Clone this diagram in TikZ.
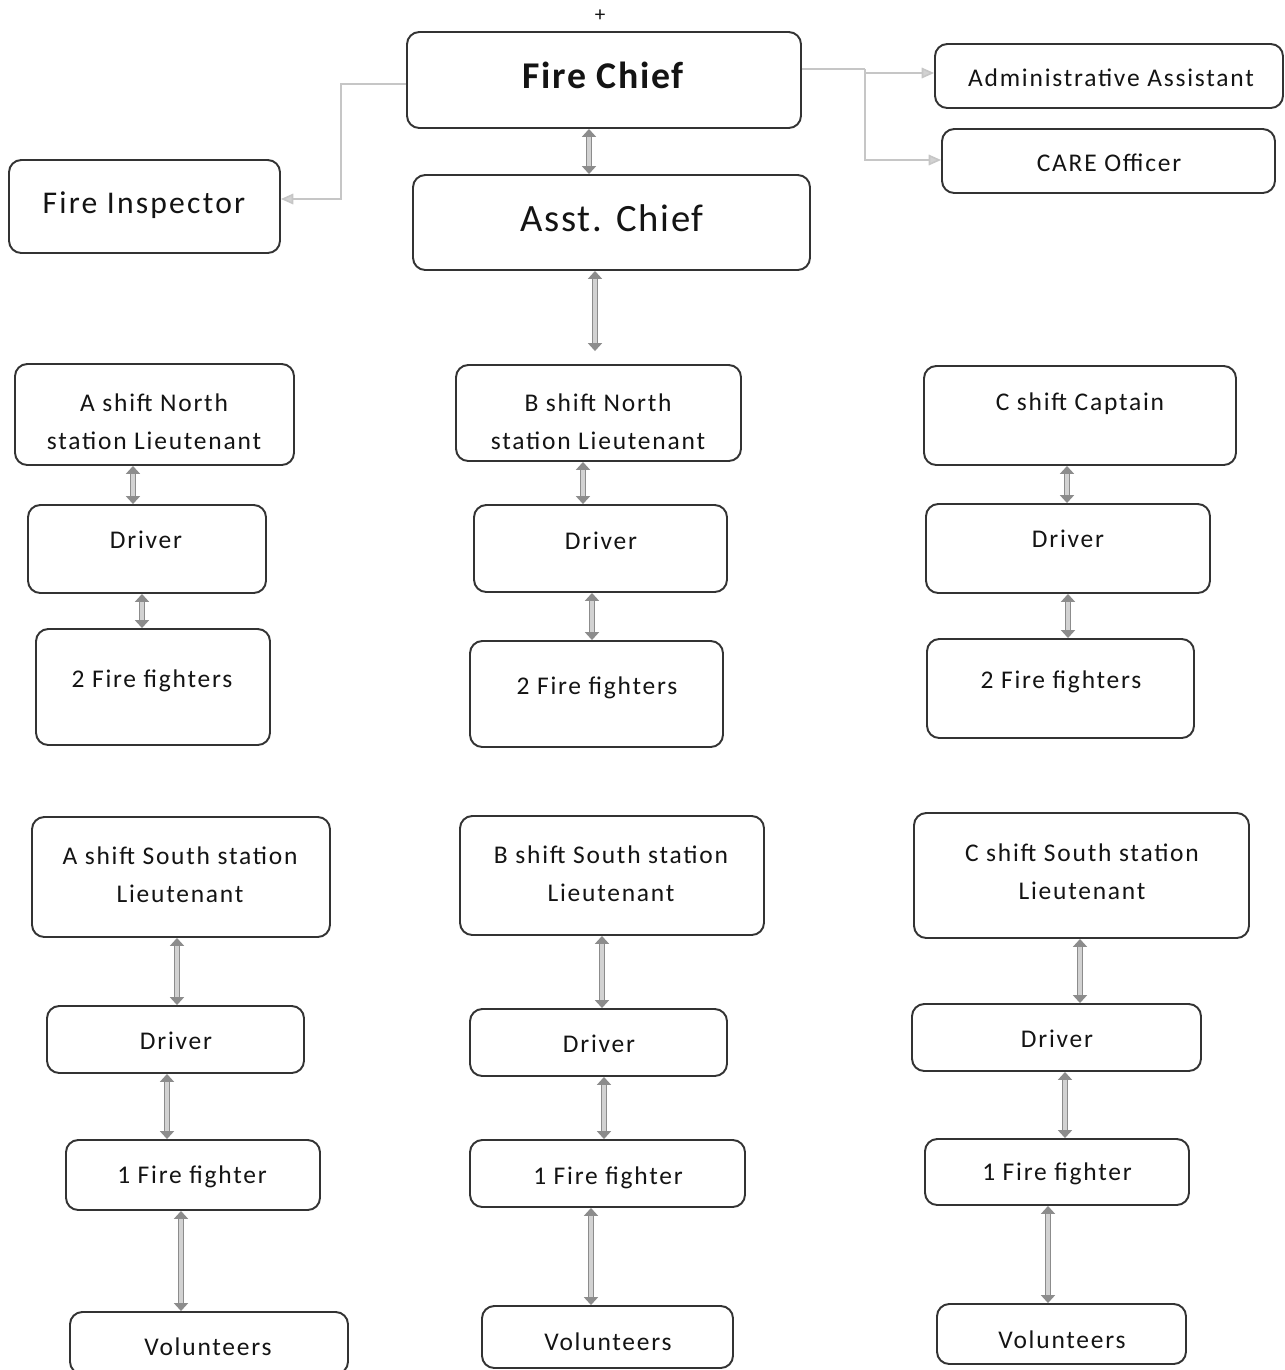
\documentclass[tikz,border=0pt]{standalone}
\usepackage{fontspec}
\setmainfont{Carlito}[LetterSpace=7]
\newfontfamily\headfont{Carlito}[LetterSpace=4.5]
\usetikzlibrary{arrows.meta,fit}
\begin{document}
\begin{tikzpicture}[x=0.02cm,y=-0.02cm,
  box/.style={draw=black!80, line width=1.1pt, rounded corners=7pt, inner sep=0pt},
  txt/.style={font=\fontsize{14.5}{21.5}\selectfont, text=black!92, inner sep=0pt, align=center},
  dbl/.style={draw=gray!90, line width=0.75pt, double=gray!35, double distance=2.1pt,
    {Triangle[width=8pt,length=4.5pt]}-{Triangle[width=8pt,length=4.5pt]}},
  thinline/.style={draw=gray!45, line width=0.9pt},
  thinarrow/.style={thinline, -{Triangle[width=6pt,length=7pt,fill=gray!35]}}]
\useasboundingbox (0,0) rectangle (1285,1370);
\fill[white] (0,0) rectangle (1285,1370);

% top level
\node[box, fit={(407,32) (801,128)}] (fc) {};
\node[txt, anchor=base, font=\headfont\fontsize{21.5}{24}\bfseries] (fct) at (603,88) {Fire Chief};
\node[txt, anchor=base, font=\fontsize{12}{14}\selectfont] (plus) at (600,21) {+};
\node[box, fit={(413,175) (810,270)}] (ac) {};
\node[txt, anchor=base, font=\headfont\fontsize{22}{24}\selectfont] (act) at (612,231) {Asst. Chief};
\node[box, fit={(9,160) (280,253)}] (fi) {};
\node[txt, anchor=base, font=\fontsize{18}{20}\selectfont] (fit) at (144,213) {Fire Inspector};
\node[box, fit={(935,44) (1283,108)}] (aa) {};
\node[txt, anchor=base] (aat) at (1111,86) {Administrative Assistant};
\node[box, fit={(942,129) (1275,193)}] (co) {};
\node[txt, anchor=base] (cot) at (1109,171) {CARE Officer};

% north row
\node[box, fit={(15,364) (294,465)}] (an) {};
\node[txt] (ant) at (154,422) {A shift North\\station Lieutenant};
\node[box, fit={(28,505) (266,593)}] (and) {};
\node[txt, anchor=base] (andt) at (146,548) {Driver};
\node[box, fit={(36,629) (270,745)}] (anf) {};
\node[txt, anchor=base] (anft) at (152,687) {2 Fire fighters};

\node[box, fit={(456,365) (741,461)}] (bn) {};
\node[txt] (bnt) at (598,422) {B shift North\\station Lieutenant};
\node[box, fit={(474,505) (727,592)}] (bnd) {};
\node[txt, anchor=base] (bndt) at (601,549) {Driver};
\node[box, fit={(470,641) (723,747)}] (bnf) {};
\node[txt, anchor=base] (bnft) at (597,694) {2 Fire fighters};

\node[box, fit={(924,366) (1236,465)}] (cn) {};
\node[txt, anchor=base] (cnt) at (1080,410) {C shift Captain};
\node[box, fit={(926,504) (1210,593)}] (cnd) {};
\node[txt, anchor=base] (cndt) at (1068,547) {Driver};
\node[box, fit={(927,639) (1194,738)}] (cnf) {};
\node[txt, anchor=base] (cnft) at (1061,688) {2 Fire fighters};

% south row
\node[box, fit={(32,817) (330,937)}] (as) {};
\node[txt] (ast) at (180,875) {A shift South station\\Lieutenant};
\node[box, fit={(47,1006) (304,1073)}] (asd) {};
\node[txt, anchor=base] (asdt) at (176,1049) {Driver};
\node[box, fit={(66,1140) (320,1210)}] (asf) {};
\node[txt, anchor=base] (asft) at (192,1183) {1 Fire fighter};
\node[box, fit={(70,1312) (348,1374)}] (asv) {};
\node[txt, anchor=base] (asvt) at (208,1355) {Volunteers};

\node[box, fit={(460,816) (764,935)}] (bs) {};
\node[txt] (bst) at (611,874) {B shift South station\\Lieutenant};
\node[box, fit={(470,1009) (727,1076)}] (bsd) {};
\node[txt, anchor=base] (bsdt) at (599,1052) {Driver};
\node[box, fit={(470,1140) (745,1207)}] (bsf) {};
\node[txt, anchor=base] (bsft) at (608,1184) {1 Fire fighter};
\node[box, fit={(482,1306) (733,1368)}] (bsv) {};
\node[txt, anchor=base] (bsvt) at (608,1350) {Volunteers};

\node[box, fit={(914,813) (1249,938)}] (cs) {};
\node[txt] (cst) at (1082,872) {C shift South station\\Lieutenant};
\node[box, fit={(912,1004) (1201,1071)}] (csd) {};
\node[txt, anchor=base] (csdt) at (1057,1047) {Driver};
\node[box, fit={(925,1139) (1189,1205)}] (csf) {};
\node[txt, anchor=base] (csft) at (1057,1180) {1 Fire fighter};
\node[box, fit={(937,1304) (1186,1364)}] (csv) {};
\node[txt, anchor=base] (csvt) at (1062,1348) {Volunteers};

% thin connectors from Fire Chief
\coordinate (jl) at (341,84);
\coordinate (jr) at (865,69);
\draw[thinarrow] (fc.west |- jl) -- (jl) -- (341,199) -- (fi.east |- 0,199);
\draw[thinline] (fc.east |- jr) -- (jr);
\draw[thinarrow] (jr) -- (865,160) -- (co.west |- 0,160);
\draw[thinarrow] (865,73) -- (aa.west |- 0,73);

% double arrows
\draw[dbl] (fc.south -| 589,0) -- (ac.north -| 589,0);
\draw[dbl, shorten >=0.26cm] (ac.south -| 595,0) -- (bn.north -| 595,0);

\draw[dbl] (an.south -| 133,0) -- (and.north -| 133,0);
\draw[dbl] (and.south -| 142,0) -- (anf.north -| 142,0);
\draw[dbl] (bn.south -| 583,0) -- (bnd.north -| 583,0);
\draw[dbl] (bnd.south -| 592,0) -- (bnf.north -| 592,0);
\draw[dbl] (cn.south -| 1067,0) -- (cnd.north -| 1067,0);
\draw[dbl] (cnd.south -| 1068,0) -- (cnf.north -| 1068,0);

\draw[dbl] (as.south -| 177,0) -- (asd.north -| 177,0);
\draw[dbl] (asd.south -| 167,0) -- (asf.north -| 167,0);
\draw[dbl] (asf.south -| 181,0) -- (asv.north -| 181,0);
\draw[dbl] (bs.south -| 602,0) -- (bsd.north -| 602,0);
\draw[dbl] (bsd.south -| 604,0) -- (bsf.north -| 604,0);
\draw[dbl] (bsf.south -| 591,0) -- (bsv.north -| 591,0);
\draw[dbl] (cs.south -| 1080,0) -- (csd.north -| 1080,0);
\draw[dbl] (csd.south -| 1065,0) -- (csf.north -| 1065,0);
\draw[dbl] (csf.south -| 1048,0) -- (csv.north -| 1048,0);
\end{tikzpicture}
\end{document}
